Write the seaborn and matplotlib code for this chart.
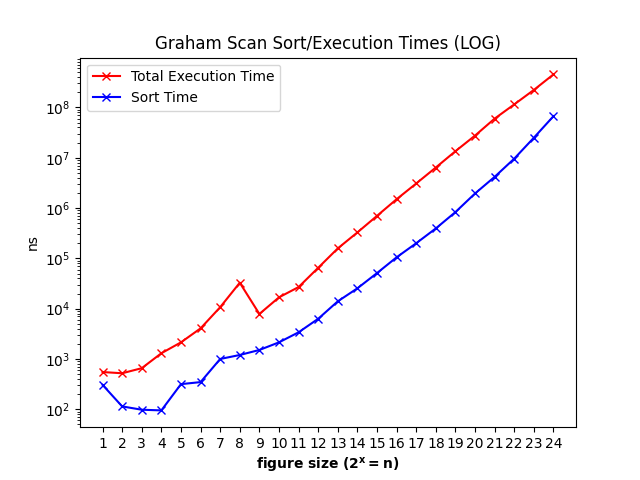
import matplotlib
matplotlib.use("Agg")
import matplotlib.pyplot as plt
import seaborn as sns

sizes = list(range(1, 25))
total_time = [550, 520, 656, 1300, 2140, 4060, 10700, 32800, 7850, 16800, 26900, 65000,
              158000, 328000, 700000, 1.5e6, 3.08e6, 6.4e6, 1.35e7, 2.76e7, 6.0e7,
              1.15e8, 2.23e8, 4.54e8]
sort_time = [306, 114, 98, 95, 316, 347, 1000, 1200, 1510, 2140, 3390, 6300,
             14000, 25400, 51000, 105000, 200000, 394000, 832000, 1.95e6, 4.17e6,
             9.6e6, 2.5e7, 6.7e7]

fig, ax = plt.subplots(figsize=(6.4, 4.8), dpi=100)
sns.lineplot(x=sizes, y=total_time, color="red", marker="x", markersize=6,
             markeredgecolor="red", markeredgewidth=1.0, label="Total Execution Time", ax=ax)
sns.lineplot(x=sizes, y=sort_time, color="blue", marker="x", markersize=6,
             markeredgecolor="blue", markeredgewidth=1.0, label="Sort Time", ax=ax)
ax.set_yscale("log")
ax.set_xticks(sizes)
ax.set_title("Graham Scan Sort/Execution Times (LOG)")
ax.set_xlabel(r"$\bf{figure\ size\ (2^x = n)}$")
ax.set_ylabel("ns")
ax.legend(loc="upper left")
fig.savefig("out.png", dpi=100)
